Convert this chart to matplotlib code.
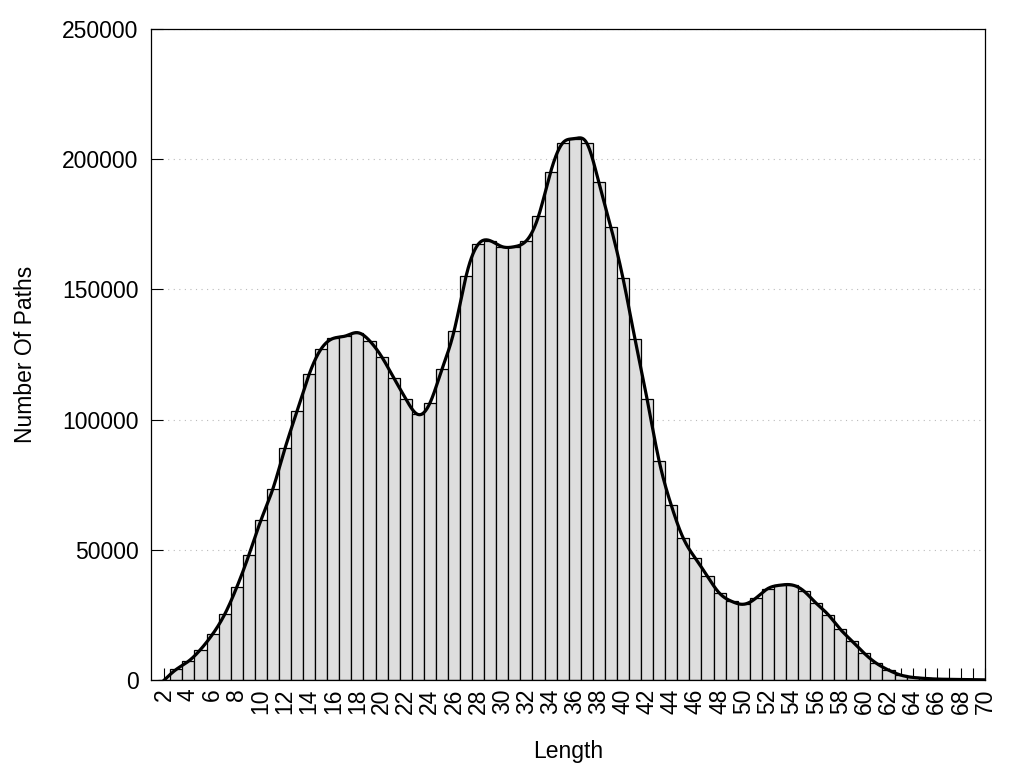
import numpy as np
import matplotlib
matplotlib.use('Agg')
import matplotlib.pyplot as plt

plt.rcParams['font.family'] = ['Liberation Sans', 'DejaVu Sans']

# Path lengths and counts
lengths = list(range(2, 71))
counts = [0, 4100, 7200, 11700, 17600, 25200, 35600, 47900, 61300, 73500,
          89000, 103300, 117400, 127200, 131200, 132100, 133400, 130300, 124200, 116100,
          108000, 102000, 106300, 119300, 133900, 155100, 167300, 168700, 166400, 166400,
          168700, 178100, 195000, 206200, 207900, 206200, 191100, 173800, 154300, 130800,
          107800, 84000, 67100, 54400, 46700, 39800, 33300, 30200, 29100, 31400,
          35100, 36400, 36500, 34100, 29500, 25100, 19500, 14900, 10200, 6400,
          3800, 1900, 1000, 600, 350, 250, 180, 120, 60]
y_ticks = [0, 50000, 100000, 150000, 200000, 250000]


# natural cubic spline through the points (like gnuplot "smooth csplines")
def natural_spline(x, y, n_out=1500):
    x = np.asarray(x, dtype=float)
    y = np.asarray(y, dtype=float)
    n = len(x)
    h = np.diff(x)
    A = np.zeros((n, n))
    b = np.zeros(n)
    A[0, 0] = 1
    A[-1, -1] = 1
    for i in range(1, n - 1):
        A[i, i - 1] = h[i - 1]
        A[i, i] = 2 * (h[i - 1] + h[i])
        A[i, i + 1] = h[i]
        b[i] = 3 * ((y[i + 1] - y[i]) / h[i] - (y[i] - y[i - 1]) / h[i - 1])
    c = np.linalg.solve(A, b)
    xs = np.linspace(x[0], x[-1], n_out)
    idx = np.clip(np.searchsorted(x, xs) - 1, 0, n - 2)
    dx = xs - x[idx]
    bb = (y[idx + 1] - y[idx]) / h[idx] - h[idx] * (2 * c[idx] + c[idx + 1]) / 3
    dd = (c[idx + 1] - c[idx]) / (3 * h[idx])
    ys = y[idx] + bb * dx + c[idx] * dx ** 2 + dd * dx ** 3
    return xs, ys


fig = plt.figure(figsize=(10.24, 7.68), dpi=100)
ax = fig.add_axes([0.1475, 0.1146, 0.8145, 0.8476])

ax.bar(lengths, counts, width=1.0, color='#dedede', edgecolor='black',
       linewidth=0.9, zorder=3)

xs, ys = natural_spline(lengths, counts)
ax.plot(xs, ys, color='black', linewidth=2.3, zorder=4)

ax.set_xlim(0.9, 70)
ax.set_ylim(0, 250000)
ax.set_xticks(range(2, 71, 2))
ax.set_xticks(range(3, 70, 2), minor=True)
ax.set_yticks(y_ticks)
ax.set_yticklabels([str(v) for v in y_ticks])

ax.tick_params(axis='x', which='both', direction='in', length=8.6, width=0.8,
               top=False, labelsize=16.5, labelrotation=90, pad=6)
ax.tick_params(axis='y', direction='in', length=8.6, width=0.8,
               right=False, labelsize=16.5, pad=9)
for lab in ax.get_xticklabels():
    lab.set_verticalalignment('top')

ax.yaxis.grid(True, linestyle=(0, (1, 4)), color='#bbbbbb', linewidth=0.8)
ax.set_axisbelow(True)
for sp in ax.spines.values():
    sp.set_linewidth(0.9)
    sp.set_zorder(5)

ax.set_xlabel('Length', fontsize=16.5, labelpad=19)
ax.set_ylabel('Number Of Paths', fontsize=16.5, labelpad=18)

fig.savefig('out.png', dpi=100)
